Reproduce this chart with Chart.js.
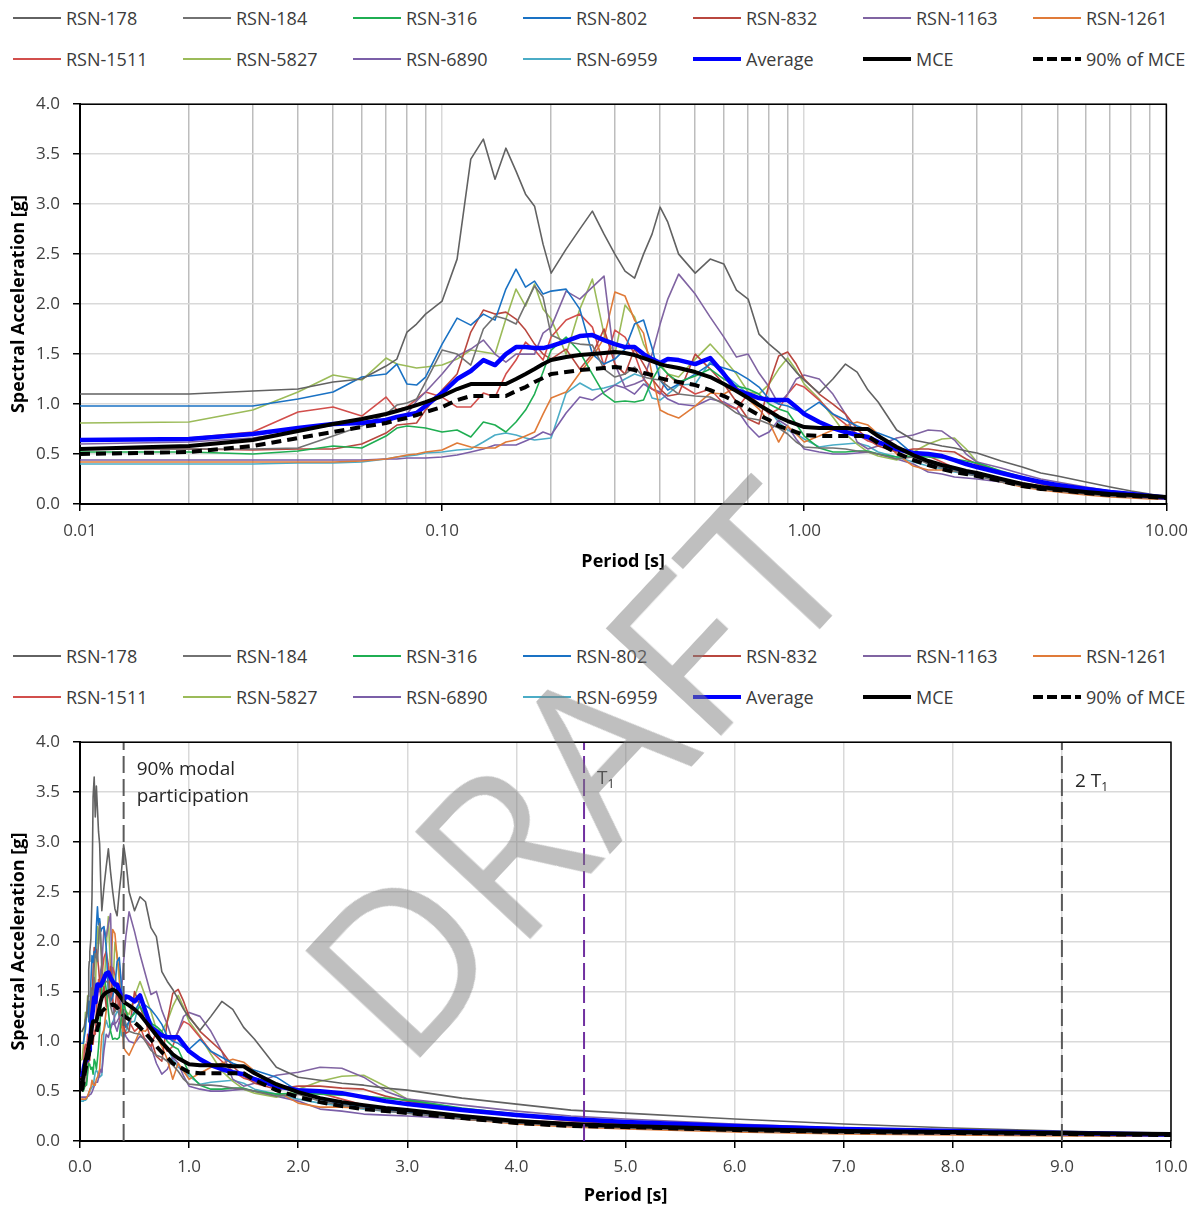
<!DOCTYPE html>
<html>
<head>
<meta charset="utf-8">
<script src="https://cdn.jsdelivr.net/npm/chart.js@4.4.1/dist/chart.umd.min.js"></script>
<style>
  body { margin: 0; background: #fff; font-family: "Open Sans", sans-serif; }
  #page { position: relative; width: 1198px; height: 1207px; overflow: hidden; }
  canvas { position: absolute; left: 0; }
  .legend-item { position: absolute; height: 24px; display: flex; align-items: center; font-size: 18px; color: #3b3b3b; white-space: nowrap; }
  .swatch { width: 48px; margin-right: 5px; }
  #watermark { position: absolute; left: 575px; top: 767px; transform: translate(-50%, -50%) rotate(-47deg);
    font-size: 220px; line-height: 1; color: rgba(128, 128, 128, 0.5); pointer-events: none; letter-spacing: 2px; }
</style>
</head>
<body>
<div id="page">
  <div id="legendTop"></div>
  <canvas id="chartLog" width="1198" height="504" style="top:81px"></canvas>
  <div id="legendBottom"></div>
  <canvas id="chartLin" width="1198" height="488" style="top:719px"></canvas>
  <div id="watermark">DRAFT</div>
</div>
<script>
const periods = [0.01, 0.02, 0.03, 0.04, 0.05, 0.06, 0.07, 0.075, 0.08, 0.085,
  0.09, 0.1, 0.11, 0.12, 0.13, 0.14, 0.15, 0.16, 0.17, 0.18,
  0.19, 0.2, 0.22, 0.24, 0.26, 0.28, 0.3, 0.32, 0.34, 0.36,
  0.38, 0.4, 0.42, 0.45, 0.5, 0.55, 0.6, 0.65, 0.7, 0.75,
  0.8, 0.85, 0.9, 0.95, 1.0, 1.1, 1.2, 1.3, 1.4, 1.5,
  1.6, 1.8, 2.0, 2.2, 2.4, 2.6, 2.8, 3.0, 3.5, 4.0,
  4.5, 5.0, 6.0, 7.0, 8.0, 9.0, 10.0];

const rsn178 = [1.10, 1.10, 1.13, 1.15, 1.22, 1.25, 1.38, 1.45, 1.72, 1.80,
  1.90, 2.03, 2.45, 3.45, 3.65, 3.25, 3.56, 3.33, 3.10, 2.98,
  2.60, 2.31, 2.55, 2.75, 2.93, 2.70, 2.50, 2.33, 2.26, 2.50,
  2.70, 2.97, 2.82, 2.50, 2.31, 2.45, 2.40, 2.14, 2.05, 1.70,
  1.60, 1.52, 1.42, 1.32, 1.24, 1.11, 1.25, 1.40, 1.32, 1.14,
  1.02, 0.74, 0.64, 0.61, 0.58, 0.56, 0.53, 0.51, 0.43, 0.37,
  0.31, 0.28, 0.22, 0.17, 0.13, 0.10, 0.07];
const rsn184 = [0.55, 0.55, 0.55, 0.56, 0.68, 0.78, 0.90, 0.99, 1.01, 1.05,
  1.22, 1.54, 1.50, 1.39, 1.75, 1.88, 1.85, 1.80, 2.00, 2.18,
  2.07, 1.69, 1.62, 1.60, 1.59, 1.35, 1.27, 1.30, 1.37, 1.27,
  1.25, 1.24, 1.18, 1.10, 1.08, 1.07, 1.00, 0.91, 0.86, 0.84,
  0.80, 0.76, 0.70, 0.62, 0.57, 0.56, 0.56, 0.55, 0.53, 0.52,
  0.50, 0.45, 0.47, 0.40, 0.36, 0.33, 0.30, 0.28, 0.22, 0.18,
  0.15, 0.13, 0.10, 0.08, 0.07, 0.06, 0.05];
const rsn316 = [0.52, 0.52, 0.50, 0.53, 0.58, 0.56, 0.68, 0.76, 0.78, 0.77,
  0.76, 0.72, 0.74, 0.67, 0.82, 0.79, 0.72, 0.82, 0.94, 1.10,
  1.32, 1.54, 1.67, 1.52, 1.30, 1.10, 1.02, 1.03, 1.02, 1.04,
  1.24, 1.38, 1.30, 1.22, 1.28, 1.35, 1.25, 1.18, 1.15, 1.10,
  1.00, 0.95, 0.92, 0.80, 0.68, 0.56, 0.52, 0.52, 0.53, 0.53,
  0.50, 0.47, 0.48, 0.47, 0.46, 0.45, 0.43, 0.41, 0.33, 0.27,
  0.22, 0.19, 0.15, 0.12, 0.09, 0.07, 0.06];
const rsn802 = [0.98, 0.98, 0.98, 1.05, 1.12, 1.27, 1.30, 1.40, 1.20, 1.19,
  1.27, 1.60, 1.86, 1.79, 1.90, 1.84, 2.15, 2.35, 2.17, 2.23,
  2.10, 2.13, 2.15, 1.95, 1.50, 1.40, 1.45, 1.55, 1.80, 1.84,
  1.56, 1.24, 1.14, 1.20, 1.30, 1.40, 1.36, 1.32, 1.25, 1.17,
  1.05, 1.00, 0.98, 0.94, 0.92, 1.02, 0.90, 0.84, 0.78, 0.74,
  0.71, 0.64, 0.50, 0.42, 0.37, 0.34, 0.31, 0.29, 0.24, 0.20,
  0.17, 0.15, 0.12, 0.10, 0.08, 0.07, 0.06];
const rsn832 = [0.55, 0.55, 0.54, 0.55, 0.55, 0.60, 0.71, 0.79, 0.80, 0.81,
  0.94, 1.14, 1.30, 1.72, 1.94, 1.90, 1.92, 1.85, 1.74, 1.60,
  1.50, 1.45, 1.55, 1.35, 1.50, 1.75, 1.40, 1.30, 1.55, 1.40,
  1.25, 1.15, 1.08, 1.10, 1.50, 1.35, 1.20, 1.02, 0.85, 0.80,
  1.20, 1.48, 1.52, 1.40, 1.25, 1.10, 1.00, 0.90, 0.75, 0.65,
  0.58, 0.52, 0.55, 0.55, 0.53, 0.52, 0.45, 0.40, 0.32, 0.25,
  0.20, 0.17, 0.12, 0.09, 0.07, 0.06, 0.05];
const rsn1163 = [0.60, 0.62, 0.66, 0.73, 0.80, 0.82, 0.84, 0.86, 0.90, 1.03,
  1.12, 1.30, 1.48, 1.55, 1.64, 1.50, 1.42, 1.50, 1.50, 1.50,
  1.71, 1.77, 2.13, 2.05, 2.17, 2.28, 1.40, 1.17, 1.20, 1.24,
  1.50, 1.80, 2.05, 2.30, 2.10, 1.87, 1.67, 1.47, 1.50, 1.31,
  1.17, 1.00, 1.10, 1.25, 1.29, 1.25, 1.10, 0.90, 0.62, 0.55,
  0.58, 0.66, 0.69, 0.74, 0.73, 0.64, 0.50, 0.42, 0.36, 0.30,
  0.25, 0.22, 0.17, 0.13, 0.11, 0.09, 0.07];
const rsn1261 = [0.42, 0.42, 0.42, 0.42, 0.42, 0.43, 0.45, 0.47, 0.49, 0.50,
  0.52, 0.54, 0.61, 0.57, 0.56, 0.56, 0.62, 0.64, 0.68, 0.72,
  0.90, 1.06, 1.12, 1.31, 1.47, 1.66, 2.12, 2.08, 1.84, 1.71,
  1.30, 0.94, 0.90, 0.86, 0.98, 1.11, 1.10, 1.17, 1.05, 0.95,
  0.82, 0.62, 0.78, 0.70, 0.62, 0.68, 0.74, 0.78, 0.82, 0.79,
  0.70, 0.50, 0.38, 0.34, 0.34, 0.33, 0.31, 0.29, 0.22, 0.17,
  0.14, 0.12, 0.09, 0.07, 0.06, 0.05, 0.05];
const rsn1511 = [0.63, 0.66, 0.72, 0.92, 0.97, 0.88, 1.07, 0.94, 0.97, 1.05,
  1.12, 1.07, 0.97, 0.97, 1.11, 1.07, 1.30, 1.44, 1.62, 1.54,
  1.44, 1.67, 1.84, 1.90, 1.77, 1.38, 1.74, 1.67, 1.50, 1.25,
  1.15, 1.10, 1.30, 1.20, 1.10, 1.15, 1.00, 0.95, 1.10, 1.00,
  0.90, 0.95, 1.10, 1.20, 1.17, 1.04, 0.90, 0.80, 0.70, 0.63,
  0.60, 0.55, 0.50, 0.48, 0.42, 0.36, 0.32, 0.30, 0.25, 0.21,
  0.18, 0.15, 0.11, 0.09, 0.07, 0.06, 0.05];
const rsn5827 = [0.81, 0.82, 0.94, 1.12, 1.29, 1.24, 1.46, 1.40, 1.38, 1.36,
  1.37, 1.39, 1.45, 1.54, 1.52, 1.50, 1.85, 2.15, 1.98, 2.20,
  1.95, 1.85, 1.50, 1.95, 2.25, 1.70, 1.50, 1.99, 1.87, 1.60,
  1.44, 1.40, 1.30, 1.27, 1.45, 1.60, 1.45, 1.30, 1.12, 1.10,
  1.20, 1.35, 1.46, 1.34, 1.20, 1.05, 0.87, 0.70, 0.60, 0.52,
  0.48, 0.44, 0.52, 0.60, 0.65, 0.66, 0.55, 0.42, 0.32, 0.26,
  0.21, 0.18, 0.14, 0.11, 0.09, 0.07, 0.06];
const rsn6890 = [0.44, 0.44, 0.44, 0.44, 0.44, 0.44, 0.45, 0.45, 0.46, 0.46,
  0.46, 0.47, 0.49, 0.52, 0.55, 0.59, 0.59, 0.59, 0.63, 0.67,
  0.72, 0.69, 0.91, 1.07, 1.04, 1.12, 1.19, 1.16, 1.10, 1.20,
  1.15, 1.12, 1.05, 1.00, 0.98, 1.05, 1.02, 0.95, 0.78, 0.67,
  0.72, 0.84, 0.78, 0.65, 0.55, 0.52, 0.50, 0.50, 0.51, 0.52,
  0.50, 0.45, 0.40, 0.32, 0.30, 0.27, 0.26, 0.25, 0.22, 0.18,
  0.15, 0.13, 0.10, 0.08, 0.07, 0.06, 0.05];
const rsn6959 = [0.40, 0.40, 0.40, 0.41, 0.41, 0.42, 0.45, 0.47, 0.48, 0.49,
  0.51, 0.52, 0.54, 0.55, 0.62, 0.69, 0.71, 0.69, 0.66, 0.64,
  0.65, 0.66, 1.11, 1.21, 1.14, 1.16, 1.19, 1.25, 1.30, 1.27,
  1.06, 1.04, 1.10, 1.19, 1.20, 1.42, 1.30, 1.20, 1.10, 1.00,
  0.94, 0.82, 0.74, 0.70, 0.65, 0.57, 0.59, 0.60, 0.61, 0.58,
  0.52, 0.47, 0.42, 0.38, 0.35, 0.32, 0.30, 0.28, 0.23, 0.19,
  0.16, 0.14, 0.11, 0.08, 0.07, 0.06, 0.05];
const average = [0.64, 0.65, 0.70, 0.76, 0.80, 0.81, 0.84, 0.87, 0.89, 0.91,
  0.98, 1.11, 1.25, 1.33, 1.44, 1.39, 1.50, 1.57, 1.57, 1.56,
  1.56, 1.58, 1.63, 1.68, 1.69, 1.64, 1.60, 1.57, 1.57, 1.50,
  1.45, 1.41, 1.45, 1.44, 1.40, 1.46, 1.30, 1.14, 1.10, 1.06,
  1.04, 1.04, 1.04, 0.97, 0.90, 0.82, 0.76, 0.72, 0.69, 0.67,
  0.62, 0.55, 0.51, 0.50, 0.48, 0.44, 0.40, 0.37, 0.31, 0.26,
  0.22, 0.19, 0.15, 0.12, 0.10, 0.08, 0.065];
const mce = [0.55, 0.58, 0.64, 0.73, 0.80, 0.85, 0.90, 0.93, 0.96, 0.99,
  1.02, 1.08, 1.15, 1.20, 1.20, 1.20, 1.20, 1.25, 1.30, 1.35,
  1.40, 1.44, 1.47, 1.49, 1.50, 1.51, 1.52, 1.51, 1.49, 1.46,
  1.43, 1.40, 1.38, 1.36, 1.32, 1.27, 1.20, 1.13, 1.06, 0.99,
  0.93, 0.87, 0.83, 0.80, 0.77, 0.76, 0.76, 0.76, 0.75, 0.75,
  0.68, 0.57, 0.49, 0.43, 0.39, 0.36, 0.33, 0.31, 0.25, 0.20,
  0.17, 0.15, 0.12, 0.10, 0.09, 0.08, 0.07];
const mce90 = [0.50, 0.52, 0.58, 0.66, 0.72, 0.77, 0.81, 0.84, 0.86, 0.89,
  0.92, 0.97, 1.04, 1.08, 1.08, 1.08, 1.08, 1.13, 1.17, 1.22,
  1.26, 1.30, 1.32, 1.34, 1.35, 1.36, 1.37, 1.36, 1.34, 1.31,
  1.29, 1.26, 1.24, 1.22, 1.19, 1.14, 1.08, 1.02, 0.95, 0.89,
  0.84, 0.78, 0.75, 0.72, 0.69, 0.68, 0.68, 0.68, 0.68, 0.68,
  0.61, 0.51, 0.44, 0.39, 0.35, 0.32, 0.30, 0.28, 0.23, 0.18,
  0.15, 0.14, 0.11, 0.09, 0.08, 0.07, 0.06];

const recordNames = ['RSN-178', 'RSN-184', 'RSN-316', 'RSN-802', 'RSN-832', 'RSN-1163', 'RSN-1261',
  'RSN-1511', 'RSN-5827', 'RSN-6890', 'RSN-6959'];
const recordValues = [rsn178, rsn184, rsn316, rsn802, rsn832, rsn1163, rsn1261,
  rsn1511, rsn5827, rsn6890, rsn6959];
const recordColors = ['#626262', '#727272', '#1fae52', '#1a72c4', '#b9473f', '#8064a2', '#e07b39',
  '#d24f4c', '#9bbb59', '#7b5fa8', '#4bacc6'];

const logTicks = [0.01, 0.02, 0.03, 0.04, 0.05, 0.06, 0.07, 0.08, 0.09,
  0.1, 0.2, 0.3, 0.4, 0.5, 0.6, 0.7, 0.8, 0.9,
  1, 2, 3, 4, 5, 6, 7, 8, 9, 10];
const markerPeriods = [0.4, 4.62, 9.0];
const markerColors = ['#5a5a5a', '#7030a0', '#5a5a5a'];

Chart.defaults.font.family = '"Open Sans", sans-serif';

// legend, 7 columns of 170 px
function buildLegend(id, rowTops) {
  const box = document.getElementById(id);
  const items = recordNames.map((n, k) => ({name: n, color: recordColors[k], h: 2, dash: false}));
  items.push({name: 'Average', color: '#0000ff', h: 4, dash: false});
  items.push({name: 'MCE', color: '#000', h: 4, dash: false});
  items.push({name: '90% of MCE', color: '#000', h: 4, dash: true});
  items.forEach((it, i) => {
    const el = document.createElement('div');
    el.className = 'legend-item';
    el.style.left = (13 + (i % 7) * 170) + 'px';
    el.style.top = (rowTops[Math.floor(i / 7)] - 12) + 'px';
    const sw = document.createElement('div');
    sw.className = 'swatch';
    sw.style.height = it.h + 'px';
    sw.style.background = it.dash
      ? 'repeating-linear-gradient(90deg,#000 0 10px,transparent 10px 14px)'
      : it.color;
    el.appendChild(sw);
    el.appendChild(document.createTextNode(it.name));
    box.appendChild(el);
  });
}
buildLegend('legendTop', [18, 59]);
buildLegend('legendBottom', [656, 697]);

function toPoints(values) {
  return periods.map((p, i) => ({x: p, y: values[i]}));
}

function buildDatasets(withMarkers) {
  const sets = recordNames.map((name, k) => ({
    label: name,
    data: toPoints(recordValues[k]),
    borderColor: recordColors[k],
    borderWidth: 1.6,
    order: 10
  }));
  sets.push({label: 'Average', data: toPoints(average), borderColor: '#0000ff', borderWidth: 4.5, order: 3});
  sets.push({label: 'MCE', data: toPoints(mce), borderColor: '#000', borderWidth: 4, order: 2});
  sets.push({label: '90% of MCE', data: toPoints(mce90), borderColor: '#000', borderWidth: 4, borderDash: [10, 6], order: 1});
  if (withMarkers) {
    markerPeriods.forEach((p, k) => {
      sets.push({label: 'marker' + k, data: [{x: p, y: 0}, {x: p, y: 4}],
        borderColor: markerColors[k], borderWidth: 2, borderDash: [17, 6], order: -1});
    });
  }
  return sets;
}

const isDecade = v => Math.abs(Math.log10(v) - Math.round(Math.log10(v))) < 1e-6;

const framePlugin = {
  id: 'frame',
  afterDraw(chart) {
    const {ctx, chartArea: a} = chart;
    ctx.save();
    ctx.strokeStyle = '#000';
    ctx.lineWidth = 1.5;
    ctx.beginPath();
    ctx.moveTo(a.left, a.top);
    ctx.lineTo(a.right, a.top);
    ctx.lineTo(a.right, a.bottom);
    ctx.stroke();
    ctx.restore();
  }
};

function drawSub(ctx, main, sub, x, y) {
  ctx.font = '19px "Open Sans"';
  ctx.fillText(main, x, y);
  const w = ctx.measureText(main).width;
  ctx.font = '12px "Open Sans"';
  ctx.fillText(sub, x + w, y + 6);
}

const notesPlugin = {
  id: 'notes',
  afterDatasetsDraw(chart) {
    const {ctx, chartArea: a, scales: {x}} = chart;
    ctx.save();
    ctx.fillStyle = '#262626';
    ctx.textBaseline = 'middle';
    ctx.font = '19px "Open Sans"';
    const x0 = x.getPixelForValue(markerPeriods[0]) + 13;
    ctx.fillText('90% modal', x0, a.top + 27);
    ctx.fillText('participation', x0, a.top + 54);
    drawSub(ctx, 'T', '1', x.getPixelForValue(markerPeriods[1]) + 13, a.top + 36);
    drawSub(ctx, '2 T', '1', x.getPixelForValue(markerPeriods[2]) + 13, a.top + 39);
    ctx.restore();
  }
};

function yAxis() {
  return {
    min: 0, max: 4,
    afterFit: s => { s.width = 80; },
    ticks: {stepSize: 0.5, padding: 13, color: '#404040', font: {size: 17}, callback: v => v.toFixed(1)},
    grid: {color: '#d9d9d9', lineWidth: 1.5, tickLength: 7, tickColor: '#000', tickWidth: 1.5},
    border: {color: '#000', width: 2},
    title: {display: true, text: 'Spectral Acceleration [g]', color: '#000',
      font: {size: 18, weight: 'bold'}, padding: {top: 8, bottom: 0}}
  };
}

const baseOptions = {
  responsive: false,
  animation: false,
  events: [],
  elements: {point: {radius: 0}, line: {tension: 0, fill: false, borderJoinStyle: 'round'}},
  plugins: {legend: {display: false}, tooltip: {enabled: false}}
};

new Chart(document.getElementById('chartLog'), {
  type: 'line',
  data: {datasets: buildDatasets(false)},
  options: Object.assign({}, baseOptions, {
    layout: {padding: {top: 0, right: 27, left: 0, bottom: 0}},
    scales: {
      x: {
        type: 'logarithmic', min: 0.01, max: 10,
        afterBuildTicks: s => { s.ticks = logTicks.map(v => ({value: v})); },
        afterFit: s => { s.height = 81; },
        ticks: {autoSkip: false, maxRotation: 0, padding: 10, color: '#404040', font: {size: 17},
          callback: v => isDecade(v) ? v.toFixed(2) : ''},
        grid: {
          color: c => c.tick && isDecade(c.tick.value) ? '#d9d9d9' : '#bdbdbd',
          lineWidth: 1.5, tickLength: 7, tickWidth: 1.5,
          tickColor: c => c.tick && isDecade(c.tick.value) ? '#000' : 'rgba(0,0,0,0)'
        },
        border: {color: '#000', width: 2},
        title: {display: true, text: 'Period [s]', color: '#000',
          font: {size: 18, weight: 'bold'}, padding: {top: 0, bottom: 12}}
      },
      y: yAxis()
    }
  }),
  plugins: [framePlugin]
});

new Chart(document.getElementById('chartLin'), {
  type: 'line',
  data: {datasets: buildDatasets(true)},
  options: Object.assign({}, baseOptions, {
    layout: {padding: {top: 0, right: 27, left: 0, bottom: 0}},
    scales: {
      x: {
        type: 'linear', min: 0, max: 10,
        afterFit: s => { s.height = 66; },
        ticks: {stepSize: 1, autoSkip: false, maxRotation: 0, padding: 9, color: '#404040', font: {size: 17},
          callback: v => v.toFixed(1)},
        grid: {color: '#d9d9d9', lineWidth: 1.5, tickLength: 7, tickColor: '#000', tickWidth: 1.5},
        border: {color: '#000', width: 2},
        title: {display: true, text: 'Period [s]', color: '#000',
          font: {size: 18, weight: 'bold'}, padding: {top: 0, bottom: 0}}
      },
      y: yAxis()
    }
  }),
  plugins: [framePlugin, notesPlugin]
});
</script>
</body>
</html>
